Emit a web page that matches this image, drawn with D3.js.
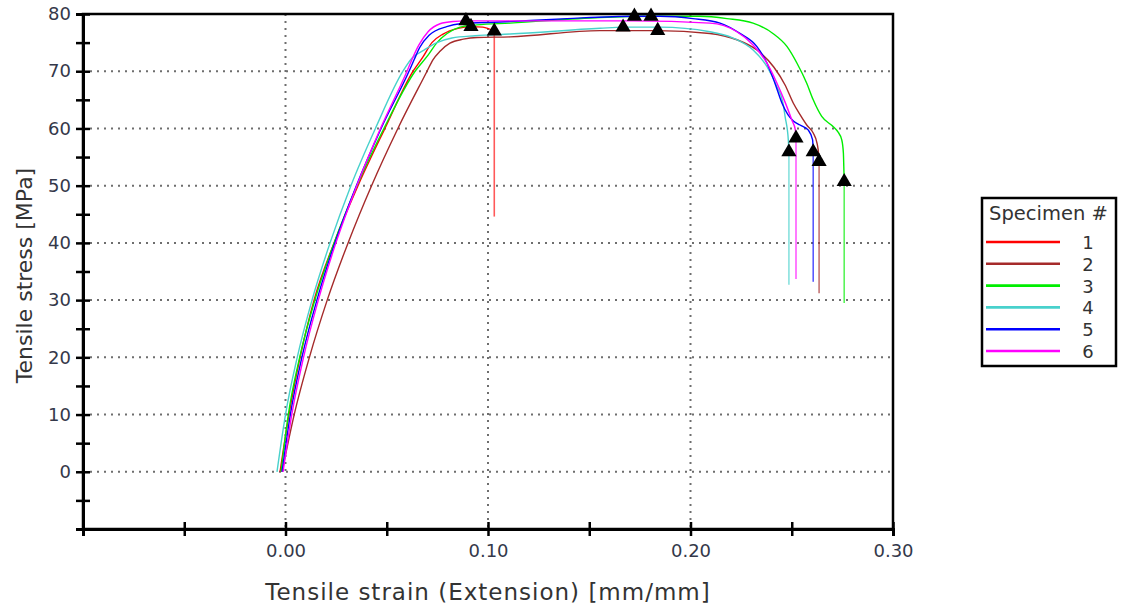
<!DOCTYPE html>
<html>
<head>
<meta charset="utf-8">
<script src="https://cdn.jsdelivr.net/npm/d3@7"></script>
<style>
  html, body { margin: 0; padding: 0; background: #fff; }
  svg { display: block; }
</style>
</head>
<body>
<svg id="chart" width="1121" height="610"></svg>
<script>
// Tensile test: stress–strain curves for six specimens
const specimenIds = ["1", "2", "3", "4", "5", "6"];

const strain1 = [-0.0027, 0.0017, 0.0072, 0.0141, 0.0240, 0.0358, 0.0491, 0.0630, 0.0679, 0.0723, 0.0778, 0.0852, 0.0916, 0.0975, 0.1031];
const stress1 = [0, 10, 20, 30, 40, 50, 60, 70, 72.5, 75.0, 76.5, 77.5, 77.8, 77.7, 77.0];

const strain2 = [-0.0017, 0.0043, 0.0118, 0.0206, 0.0309, 0.0425, 0.0555, 0.0699, 0.0728, 0.0763, 0.0812, 0.0878, 0.0946, 0.1109, 0.1553, 0.1838, 0.2096, 0.2229, 0.2328, 0.2412, 0.2467, 0.2508, 0.2541, 0.2574, 0.2606, 0.2625, 0.2632, 0.2635];
const stress2 = [0, 10, 20, 30, 40, 50, 60, 70, 72.0, 73.5, 74.9, 75.6, 75.9, 76.0, 77.1, 77.1, 76.6, 75.5, 73.7, 70.7, 67.6, 64.4, 62.4, 60.6, 59.2, 57.4, 55.7, 54.2];

const strain3 = [-0.0022, 0.0014, 0.0070, 0.0145, 0.0240, 0.0353, 0.0486, 0.0640, 0.0704, 0.0748, 0.0798, 0.0862, 0.0946, 0.1109, 0.1553, 0.1805, 0.2047, 0.2180, 0.2309, 0.2407, 0.2477, 0.2526, 0.2574, 0.2606, 0.2648, 0.2705, 0.2728, 0.2747, 0.2755, 0.2757, 0.2759];
const stress3 = [0, 10, 20, 30, 40, 50, 60, 70, 72.8, 75.0, 76.6, 77.7, 78.1, 78.4, 79.4, 79.6, 79.6, 79.2, 78.4, 76.6, 74.3, 71.4, 67.9, 65.0, 62.1, 60.3, 59.4, 58.0, 55.7, 53.4, 50.7];

const strain4 = [-0.0042, 0.0000, 0.0058, 0.0131, 0.0220, 0.0323, 0.0444, 0.0580, 0.0625, 0.0684, 0.0748, 0.0822, 0.0936, 0.1109, 0.1553, 0.1667, 0.1849, 0.2096, 0.2210, 0.2309, 0.2378, 0.2427, 0.2457, 0.2467, 0.2483, 0.2486];
const stress4 = [0, 10, 20, 30, 40, 50, 60, 70, 72.3, 73.7, 75.0, 75.8, 76.2, 76.5, 77.5, 77.7, 77.7, 76.9, 75.8, 73.7, 70.8, 67.3, 64.4, 62.1, 58.0, 55.9];

const strain5 = [-0.0017, 0.0024, 0.0081, 0.0155, 0.0244, 0.0350, 0.0472, 0.0610, 0.0635, 0.0662, 0.0709, 0.0796, 0.0862, 0.1059, 0.1390, 0.1723, 0.1849, 0.2012, 0.2146, 0.2244, 0.2328, 0.2378, 0.2417, 0.2452, 0.2481, 0.2508, 0.2541, 0.2582, 0.2603, 0.2606];
const stress5 = [0, 10, 20, 30, 40, 50, 60, 70, 72.0, 74.1, 76.3, 77.8, 78.3, 78.6, 79.2, 79.6, 79.6, 79.2, 78.4, 76.6, 74.3, 71.4, 67.9, 64.4, 62.4, 61.3, 60.6, 59.7, 58.0, 55.9];

const strain6 = [-0.0012, 0.0031, 0.0089, 0.0162, 0.0249, 0.0352, 0.0469, 0.0600, 0.0630, 0.0659, 0.0704, 0.0763, 0.0827, 0.0891, 0.1306, 0.1716, 0.2096, 0.2229, 0.2309, 0.2378, 0.2427, 0.2467, 0.2500, 0.2518, 0.2521];
const stress6 = [0, 10, 20, 30, 40, 50, 60, 70, 72.5, 74.6, 76.9, 78.3, 78.7, 78.8, 78.8, 78.8, 78.4, 76.9, 74.6, 71.4, 67.9, 64.6, 61.5, 59.7, 58.3];

// Markers: maximum stress and break point per specimen
const peakStrain  = [0.0916, 0.1838, 0.1805, 0.1667, 0.1723, 0.0891];
const peakStress  = [77.8, 77.1, 79.6, 77.7, 79.6, 78.8];
const breakStrain = [0.1031, 0.2635, 0.2759, 0.2486, 0.2606, 0.2521];
const breakStress = [77.0, 54.2, 50.7, 55.9, 55.9, 58.3];
// Stress reached at the end of the unloading drop after break
const dropStress  = [44.6, 31.2, 29.5, 32.7, 33.2, 33.7];

// Axis ticks
const yTickValues = d3.range(-10, 80.001, 5);
const yLabelValues = [0, 10, 20, 30, 40, 50, 60, 70, 80];
const xTickValues = d3.range(-0.10, 0.3001, 0.05);
const xLabelValues = [0.00, 0.10, 0.20, 0.30];
const yGridValues = [0, 10, 20, 30, 40, 50, 60, 70];
const xGridValues = [0.00, 0.10, 0.20];

const colors = ["#ff0000", "#a52a2a", "#00ee00", "#48d1cc", "#0000ff", "#ff00ff"];

const strains = [strain1, strain2, strain3, strain4, strain5, strain6];
const stresses = [stress1, stress2, stress3, stress4, stress5, stress6];

const series = specimenIds.map((id, i) => ({
  id,
  color: colors[i],
  points: strains[i].map((s, k) => [s, stresses[i][k]]),
  peak: [peakStrain[i], peakStress[i]],
  brk: [breakStrain[i], breakStress[i]],
  drop: dropStress[i]
}));

const svg = d3.select("#chart");
const plot = { left: 83, right: 893, top: 14, bottom: 529 };

const x = d3.scaleLinear().domain([-0.10, 0.30]).range([plot.left, plot.right]);
const y = d3.scaleLinear().domain([-10, 80]).range([plot.bottom, plot.top]);

const fontFamily = "'DejaVu Sans', Verdana, sans-serif";
const tickColor = "#34384a";

// Dotted grid
const grid = svg.append("g");
grid.selectAll("line.h").data(yGridValues).join("line")
  .attr("x1", plot.left).attr("x2", plot.right)
  .attr("y1", d => y(d)).attr("y2", d => y(d))
  .attr("stroke", "#6e6e6e").attr("stroke-width", 2).attr("stroke-dasharray", "2,5");
grid.selectAll("line.v").data(xGridValues).join("line")
  .attr("x1", d => x(d)).attr("x2", d => x(d))
  .attr("y1", plot.top).attr("y2", plot.bottom)
  .attr("stroke", "#6e6e6e").attr("stroke-width", 2).attr("stroke-dasharray", "2,5");

// Curves
const line = d3.line().x(d => x(d[0])).y(d => y(d[1])).curve(d3.curveMonotoneX);
const curves = svg.append("g");
series.forEach(s => {
  curves.append("path")
    .attr("d", line(s.points))
    .attr("fill", "none")
    .attr("stroke", s.color)
    .attr("stroke-width", 1.4)
    .attr("stroke-linejoin", "round");
  curves.append("line")
    .attr("x1", x(s.brk[0])).attr("x2", x(s.brk[0]))
    .attr("y1", y(s.brk[1])).attr("y2", y(s.drop))
    .attr("stroke", s.color)
    .attr("stroke-opacity", 0.65)
    .attr("stroke-width", 1.6);
});

// Triangle markers
const tri = d3.symbol().type(d3.symbolTriangle).size(100);
const markers = svg.append("g");
series.forEach(s => {
  [s.peak, s.brk].forEach(p => {
    markers.append("path")
      .attr("d", tri())
      .attr("transform", `translate(${x(p[0])},${y(p[1])})`)
      .attr("fill", "#000");
  });
});

// Frame
svg.append("rect")
  .attr("x", plot.left).attr("y", plot.top)
  .attr("width", plot.right - plot.left).attr("height", plot.bottom - plot.top)
  .attr("fill", "none").attr("stroke", "#000").attr("stroke-width", 2.5);

// Y axis
const yAxis = d3.axisLeft(y)
  .tickValues(yTickValues)
  .tickSize(7)
  .tickPadding(5)
  .tickFormat(d => yLabelValues.includes(Math.round(d)) && Math.abs(d - Math.round(d)) < 1e-6 ? d3.format("d")(d) : "");
const gy = svg.append("g").attr("transform", `translate(${plot.left},0)`).call(yAxis);
gy.select(".domain").attr("stroke-width", 3);
gy.selectAll(".tick line").attr("x1", 7).attr("stroke-width", 2.5);
gy.selectAll(".tick text").attr("font-family", fontFamily).attr("font-size", 18).attr("fill", tickColor);

// X axis
const xAxis = d3.axisBottom(x)
  .tickValues(xTickValues)
  .tickSize(7)
  .tickPadding(8)
  .tickFormat(d => xLabelValues.some(v => Math.abs(v - d) < 1e-6) ? d3.format(".2f")(d) : "");
const gx = svg.append("g").attr("transform", `translate(0,${plot.bottom})`).call(xAxis);
gx.select(".domain").attr("stroke-width", 3);
gx.selectAll(".tick line").attr("y1", -7).attr("stroke-width", 2.5);
gx.selectAll(".tick text").attr("font-family", fontFamily).attr("font-size", 18).attr("fill", tickColor);

// Axis titles
svg.append("text")
  .attr("x", (plot.left + plot.right) / 2).attr("y", 600)
  .attr("text-anchor", "middle")
  .attr("font-family", fontFamily).attr("font-size", 23).attr("letter-spacing", 1).attr("fill", "#333")
  .text("Tensile strain (Extension) [mm/mm]");
svg.append("text")
  .attr("transform", `translate(32,${(plot.top + plot.bottom) / 2 + 4}) rotate(-90)`)
  .attr("text-anchor", "middle")
  .attr("font-family", fontFamily).attr("font-size", 22).attr("fill", "#333")
  .text("Tensile stress [MPa]");

// Legend
const legend = svg.append("g").attr("transform", "translate(982,198)");
legend.append("rect")
  .attr("width", 134).attr("height", 168)
  .attr("fill", "#fff").attr("stroke", "#000").attr("stroke-width", 2.5);
legend.append("text")
  .attr("x", 7).attr("y", 22)
  .attr("font-family", fontFamily).attr("font-size", 19.5).attr("fill", "#333")
  .text("Specimen #");
const rowY = d3.scaleLinear().domain([0, 5]).range([44, 153]);
series.forEach((s, i) => {
  legend.append("line")
    .attr("x1", 4).attr("x2", 78)
    .attr("y1", rowY(i)).attr("y2", rowY(i))
    .attr("stroke", s.color).attr("stroke-width", 2.6);
  legend.append("text")
    .attr("x", 106).attr("y", rowY(i) + 7)
    .attr("text-anchor", "middle")
    .attr("font-family", fontFamily).attr("font-size", 18).attr("fill", "#333")
    .text(s.id);
});
</script>
</body>
</html>
